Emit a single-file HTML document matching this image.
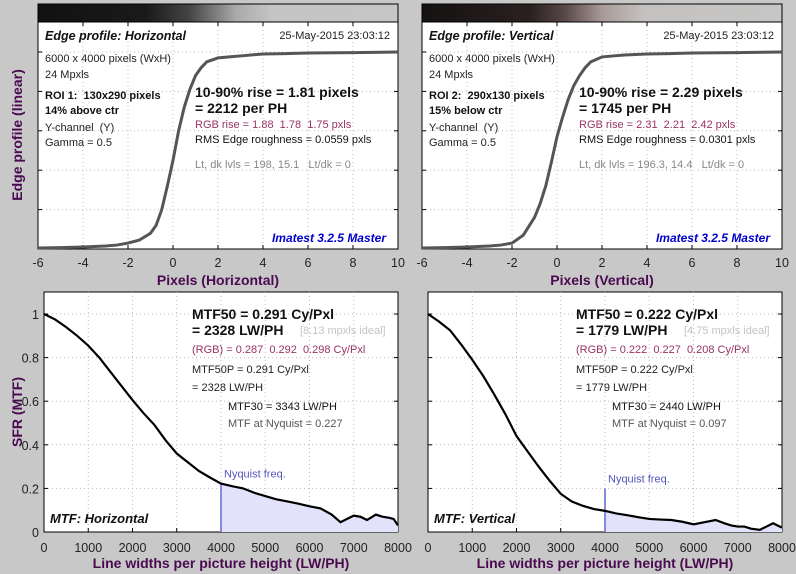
<!DOCTYPE html>
<html><head><meta charset="utf-8">
<style>
html,body{margin:0;padding:0;background:#c8c8c8;}
svg{display:block;font-family:"Liberation Sans",sans-serif;}
text{white-space:pre;}
.t{font-size:11px;fill:#222;}
.tk{font-size:12.5px;fill:#222;}
.ax{font-size:14px;font-weight:bold;fill:#4a0a50;}
.big{font-size:14px;font-weight:bold;fill:#111;}
.pur{font-size:11px;fill:#993366;}
.gr{font-size:11px;fill:#888;}
</style></head>
<body>
<svg id="c" width="796" height="574" viewBox="0 0 796 574">
<defs>
<linearGradient id="g1" x1="0" x2="1" y1="0" y2="0">
<stop offset="0" stop-color="#111"/><stop offset="0.3" stop-color="#1a1a1a"/><stop offset="0.42" stop-color="#444"/><stop offset="0.55" stop-color="#aaa"/><stop offset="0.65" stop-color="#c4c4c4"/><stop offset="1" stop-color="#c6c6c6"/>
</linearGradient>
<linearGradient id="g2" x1="0" x2="1" y1="0" y2="0">
<stop offset="0" stop-color="#151212"/><stop offset="0.3" stop-color="#2a2020"/><stop offset="0.4" stop-color="#5a4a4a"/><stop offset="0.5" stop-color="#a89a98"/><stop offset="0.62" stop-color="#c4c2c0"/><stop offset="1" stop-color="#c6c6c6"/>
</linearGradient>
</defs>
</svg>
<script>
// Edge profile data
const edgeX = [-6,-5,-4,-3,-2.5,-2,-1.5,-1,-0.75,-0.5,-0.25,0,0.25,0.5,0.75,1,1.25,1.5,2,2.5,3,4,5,6,8,10];
const edgeH = [0.005,0.007,0.01,0.015,0.02,0.03,0.045,0.08,0.12,0.2,0.32,0.45,0.6,0.72,0.81,0.88,0.92,0.95,0.97,0.975,0.98,0.99,0.992,0.995,0.997,1.0];
const edgeV = [0.005,0.007,0.01,0.015,0.02,0.03,0.07,0.16,0.23,0.32,0.44,0.57,0.67,0.76,0.83,0.88,0.92,0.95,0.975,0.98,0.985,0.99,0.992,0.995,0.997,1.0];
const edgeXTicks = [-6,-4,-2,0,2,4,6,8,10];
// MTF data
const mtfX = [0,250,500,750,1000,1250,1500,1750,2000,2250,2500,2750,3000,3250,3500,3750,4000,4250,4500,4750,5000,5250,5500,5750,6000,6250,6500,6700,6850,7000,7150,7300,7500,7650,7800,7900,8000];
const mtfH = [1.0,0.975,0.94,0.9,0.855,0.8,0.735,0.67,0.605,0.545,0.49,0.42,0.36,0.32,0.28,0.25,0.222,0.21,0.2,0.18,0.165,0.15,0.14,0.13,0.118,0.108,0.08,0.045,0.06,0.075,0.07,0.055,0.08,0.07,0.065,0.06,0.03];
const mtfV = [1.0,0.965,0.925,0.86,0.79,0.715,0.63,0.54,0.44,0.37,0.3,0.235,0.175,0.14,0.12,0.105,0.097,0.085,0.077,0.068,0.06,0.057,0.055,0.047,0.035,0.045,0.055,0.04,0.03,0.025,0.025,0.015,0.01,0.025,0.04,0.03,0.02];
const mtfXTicks = [0,1000,2000,3000,4000,5000,6000,7000,8000];
const mtfYTicks = [0,0.2,0.4,0.6,0.8,1];
const mtfYLabels = ["0","0.2","0.4","0.6","0.8","1"];

const svg=document.getElementById('c');
const NS='http://www.w3.org/2000/svg';
function mk(tag,attrs,parent,text){const e=document.createElementNS(NS,tag);for(const k in attrs)e.setAttribute(k,attrs[k]);if(text!==undefined)e.textContent=text;(parent||svg).appendChild(e);return e;}
function txt(x,y,s,cls,name,extra,style){const e=mk('text',Object.assign({x:x,y:y,class:cls},extra||{}),null,s);
if(style)e.setAttribute('style',style);


return e;}

function edgePanel(ox,grad,ys,title,lines){
  const L=ox,R=ox+360,T=22,B=249;
  const sx=v=>L+(v+6)*22.5, sy=v=>B-v*197;
  const strip=mk('rect',{x:L,y:4,width:360,height:18,fill:'url(#'+grad+')',stroke:'#000'});
  
  
  const fr=mk('rect',{x:L,y:T,width:360,height:B-T,fill:'#fff',stroke:'#000'});
  
  
  edgeXTicks.forEach(v=>{if(v>-6&&v<10)mk('line',{x1:sx(v),x2:sx(v),y1:T,y2:B,stroke:'#bbb','stroke-dasharray':'1 3'});
    mk('line',{x1:sx(v),x2:sx(v),y1:B,y2:B-4,stroke:'#000'});mk('line',{x1:sx(v),x2:sx(v),y1:T,y2:T+4,stroke:'#000'});
    txt(sx(v),267,String(v),'tk','x-tick-label',{'text-anchor':'middle'});});
  [0.2,0.4,0.6,0.8,1].forEach(v=>{mk('line',{x1:L,x2:R,y1:sy(v),y2:sy(v),stroke:'#bbb','stroke-dasharray':'1 3'});
    mk('line',{x1:L,x2:L+4,y1:sy(v),y2:sy(v),stroke:'#000'});mk('line',{x1:R-4,x2:R,y1:sy(v),y2:sy(v),stroke:'#000'});});
  const p=mk('polyline',{points:edgeX.map((x,i)=>sx(x)+','+sy(ys[i])).join(' '),fill:'none',stroke:'#555','stroke-width':3});
  
  
  txt(L+7,40,title,'big','edge-title',{},'font-style:italic;font-size:12.5px');
  txt(R-8,39,'25-May-2015 23:03:12','t','timestamp',{'text-anchor':'end'});
  txt(L+7,62,'6000 x 4000 pixels (WxH)','t','image-size');
  txt(L+7,78,'24 Mpxls','t','megapixels');
  txt(L+7,99,lines[0],'t','roi-label',{},'font-weight:bold;fill:#111');
  txt(L+7,114,lines[1],'t','roi-position',{},'font-weight:bold;fill:#111');
  txt(L+7,131,'Y-channel  (Y)','t','channel');
  txt(L+7,146,'Gamma = 0.5','t','gamma');
  txt(L+157,97,lines[2],'big','rise-value');
  txt(L+157,113,lines[3],'big','rise-per-ph');
  txt(L+157,128,lines[4],'pur','rgb-rise');
  txt(L+157,143,lines[5],'t','rms-roughness',{},'fill:#111');
  txt(L+157,168,lines[6],'gr','light-dark-levels');
  txt(R-12,242,'Imatest 3.2.5 Master','big','imatest-version',{'text-anchor':'end'},'font-style:italic;fill:#0000cc;font-size:12px');
  txt(L+180,285,title.indexOf('Horiz')>0?'Pixels (Horizontal)':'Pixels (Vertical)','ax','x-axis-title',{'text-anchor':'middle'});
}
function mtfPanel(ox,ys,nyqVal,lines,title){
  const L=ox,R=ox+354,T=292,B=532;
  const sx=v=>L+v/8000*354, sy=v=>B-v*218;
  const fr=mk('rect',{x:L,y:T,width:354,height:B-T,fill:'#fff',stroke:'#000'});
  
  
  mtfXTicks.forEach(v=>{if(v>0&&v<8000)mk('line',{x1:sx(v),x2:sx(v),y1:T,y2:B,stroke:'#bbb','stroke-dasharray':'1 3'});
    mk('line',{x1:sx(v),x2:sx(v),y1:B,y2:B-4,stroke:'#000'});
    txt(sx(v),552,String(v),'tk','x-tick-label',{'text-anchor':'middle'});});
  mtfYTicks.forEach((v,i)=>{if(v>0)mk('line',{x1:L,x2:R,y1:sy(v),y2:sy(v),stroke:'#bbb','stroke-dasharray':'1 3'});
    mk('line',{x1:L,x2:L+4,y1:sy(v),y2:sy(v),stroke:'#000'});mk('line',{x1:R-4,x2:R,y1:sy(v),y2:sy(v),stroke:'#000'});
    if(ox<400)txt(L-5,sy(v)+5,mtfYLabels[i],'tk','y-tick-label',{'text-anchor':'end'});});
  let pts=[];mtfX.forEach((x,i)=>{if(x>=4000)pts.push(sx(x)+','+sy(ys[i]));});
  pts.push(sx(8000)+','+B);pts.push(sx(4000)+','+B);
  const f=mk('polygon',{points:pts.join(' '),fill:'#e2e2fa'});
  
  
  const nl=mk('line',{x1:sx(4000),x2:sx(4000),y1:B,y2:sy(nyqVal),stroke:'#8888dd','stroke-width':2});
  
  
  txt(sx(4000)+3,sy(nyqVal)-6,'Nyquist freq.','t','nyquist-label',{},'fill:#5555bb');
  const p=mk('polyline',{points:mtfX.map((x,i)=>sx(x)+','+sy(ys[i])).join(' '),fill:'none',stroke:'#000','stroke-width':2.2});
  
  
  const c=L+148;
  txt(c,319,lines[0],'big','mtf50');
  txt(c,335,lines[1],'big','mtf50-lwph');
  txt(c+108,334,lines[2],'t','ideal-mpxls',{},'fill:#c4c4c4');
  txt(c,353,lines[3],'pur','rgb-mtf50');
  txt(c,373,lines[4],'t','mtf50p');
  txt(c,391,lines[5],'t','mtf50p-lwph');
  txt(c+36,410,lines[6],'t','mtf30',{},'fill:#111');
  txt(c+36,427,lines[7],'t','mtf-nyquist',{},'fill:#555');
  txt(L+6,523,title,'big','mtf-title',{},'font-style:italic;font-size:13px');
  txt(L+177,568,'Line widths per picture height (LW/PH)','ax','x-axis-title',{'text-anchor':'middle'});
}
edgePanel(38,'g1',edgeH,'Edge profile: Horizontal',['ROI 1:  130x290 pixels','14% above ctr','10-90% rise = 1.81 pixels','= 2212 per PH','RGB rise = 1.88  1.78  1.75 pxls','RMS Edge roughness = 0.0559 pxls','Lt, dk lvls = 198, 15.1   Lt/dk = 0']);
edgePanel(422,'g2',edgeV,'Edge profile: Vertical',['ROI 2:  290x130 pixels','15% below ctr','10-90% rise = 2.29 pixels','= 1745 per PH','RGB rise = 2.31  2.21  2.42 pxls','RMS Edge roughness = 0.0301 pxls','Lt, dk lvls = 196.3, 14.4   Lt/dk = 0']);
mtfPanel(44,mtfH,0.222,['MTF50 = 0.291 Cy/Pxl','= 2328 LW/PH','[8.13 mpxls ideal]','(RGB) = 0.287  0.292  0.298 Cy/Pxl','MTF50P = 0.291 Cy/Pxl','= 2328 LW/PH','MTF30 = 3343 LW/PH','MTF at Nyquist = 0.227'],'MTF: Horizontal');
mtfPanel(428,mtfV,0.2,['MTF50 = 0.222 Cy/Pxl','= 1779 LW/PH','[4.75 mpxls ideal]','(RGB) = 0.222  0.227  0.208 Cy/Pxl','MTF50P = 0.222 Cy/Pxl','= 1779 LW/PH','MTF30 = 2440 LW/PH','MTF at Nyquist = 0.097'],'MTF: Vertical');
txt(22,135,'Edge profile (linear)','ax','y-axis-title-edge',{'text-anchor':'middle','transform':'rotate(-90 22 135)'});
txt(22,412,'SFR (MTF)','ax','y-axis-title-mtf',{'text-anchor':'middle','transform':'rotate(-90 22 412)'});
</script>
</body></html>
